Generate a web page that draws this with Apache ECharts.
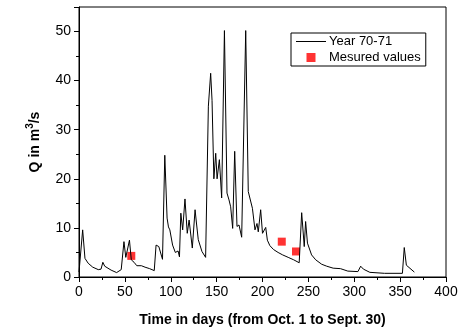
<!DOCTYPE html>
<html>
<head>
<meta charset="utf-8">
<script src="https://cdn.jsdelivr.net/npm/echarts@6/dist/echarts.min.js"></script>
<style>
html,body{margin:0;padding:0;background:#fff;}
#chart{width:472px;height:334px;}
</style>
</head>
<body>
<div id="chart"></div>
<script>
// Daily discharge, Year 70-71 (day, Q in m3/s)
var days = [0,1,4,6.5,10,15,21,24,26,28,35,41,46,49,51,52,55,57,60,63,68,72,77,82,84,85,87,88,91,93.5,96,97.5,99,102,105,107,108,109.5,111,113,115.5,118,120,123.5,126.5,128,130,134,138,141,143.5,145,147,149,150.5,151.5,153,155.5,158.5,161.3,163.5,165.3,167.5,169.7,172.2,174.4,177.3,181.7,184.5,186.5,189,191.8,194,195.4,198,200,201.6,203.5,205.3,208,212,217,222,228,234,240,242.7,245.5,247,249,253.5,258,264.5,270,277,285,293,304,307,310,317,333,352.5,354.5,356.8,365.5];
var flow = [1.0,1.2,9.6,3.8,2.8,2.0,1.5,1.6,3.0,2.2,1.4,0.9,1.5,7.2,4.0,3.6,7.5,3.5,3.0,2.3,2.3,2.0,1.7,1.3,6.5,6.9,6.2,6.4,3.6,24.8,12,10.2,9.6,6.5,5.0,4.8,5.3,4.1,13,9.6,15.9,8.9,11.6,5.9,13.7,11,7.6,5.2,4.0,34.8,41.5,36,20,25.2,20,19.8,23.9,16.1,50.2,17.1,15.7,14.3,9.9,25.6,10.3,10.6,8.1,50.2,17.4,17.6,14,9.6,10.9,9.2,13.7,8.9,8.9,10.1,7.5,6.4,5.6,5.0,4.5,4.0,3.5,2.9,13.1,6.2,11.3,6.9,4.5,3.5,2.6,2.2,1.8,1.7,1.2,1.1,2.2,1.6,0.95,0.75,0.75,6.0,2.4,1.0];
// Measured values
var measDays = [57, 221, 236.5];
var measQ = [4.3, 7.2, 5.2];
var seriesNames = ['Year 70-71', 'Mesured values'];
var xTitle = 'Time in days (from Oct. 1 to Sept. 30)';

var FONT = '"Liberation Sans", Arial, sans-serif';
var chart = echarts.init(document.getElementById('chart'), null, {renderer: 'canvas'});
var lineData = days.map(function (d, i) { return [d, flow[i]]; });
var measData = measDays.map(function (d, i) { return [d, measQ[i]]; });

chart.setOption({
  animation: false,
  backgroundColor: '#fff',
  textStyle: {fontFamily: FONT, color: '#000'},
  grid: {left: 79, right: 26, top: 7, bottom: 57, show: true, borderColor: '#000', borderWidth: 1, backgroundColor: 'transparent'},
  legend: {
    orient: 'vertical',
    left: 291, top: 33,
    padding: [2, 5, 2, 5],
    itemGap: 3,
    itemWidth: 30, itemHeight: 9,
    symbolKeepAspect: true,
    borderColor: '#000', borderWidth: 1,
    textStyle: {fontSize: 13, color: '#000', fontFamily: FONT, padding: [0, 0, 0, -2]},
    data: [
      {name: seriesNames[0], icon: 'path://M0,0L30,0L30,1L0,1Z', itemStyle: {color: '#000'}},
      {name: seriesNames[1], icon: 'path://M0,0L8,0L8,8L0,8Z', itemStyle: {color: '#ff0000'}}
    ]
  },
  xAxis: {
    type: 'value', min: 0, max: 400, interval: 50,
    name: xTitle, nameLocation: 'middle', nameGap: 36,
    nameTextStyle: {fontSize: 14, fontWeight: 'bold', color: '#000', fontFamily: FONT},
    axisLine: {show: true, lineStyle: {color: '#000', width: 1}},
    axisTick: {show: true, inside: false, length: 5, lineStyle: {color: '#000'}},
    minorTick: {show: true, splitNumber: 2, length: 3, lineStyle: {color: '#000'}},
    axisLabel: {fontSize: 14, color: '#000', margin: 8, fontFamily: FONT},
    splitLine: {show: false}
  },
  yAxis: {
    type: 'value', min: 0, max: 55, interval: 10,
    name: '{a|Q in m}{b|3}{a|/s}', nameLocation: 'middle', nameGap: 34, nameRotate: 90,
    nameTextStyle: {
      rich: {
        a: {fontSize: 14, fontWeight: 'bold', color: '#000', fontFamily: FONT, lineHeight: 20},
        b: {fontSize: 10, fontWeight: 'bold', color: '#000', fontFamily: FONT, verticalAlign: 'top', lineHeight: 20}
      }
    },
    axisLine: {show: true, lineStyle: {color: '#000', width: 1}},
    axisTick: {show: true, inside: false, length: 5, lineStyle: {color: '#000'}},
    minorTick: {show: true, splitNumber: 2, length: 3, lineStyle: {color: '#000'}},
    axisLabel: {fontSize: 14, color: '#000', margin: 8, fontFamily: FONT, showMaxLabel: false},
    splitLine: {show: false}
  },
  series: [
    {
      name: seriesNames[0], type: 'line', data: lineData,
      symbol: 'none', showSymbol: false,
      lineStyle: {color: '#000', width: 1},
      itemStyle: {color: '#000'}
    },
    {
      name: seriesNames[1], type: 'scatter', data: measData,
      symbol: 'rect', symbolSize: 8,
      itemStyle: {color: '#ff0000'}
    }
  ]
});
</script>
</body>
</html>
